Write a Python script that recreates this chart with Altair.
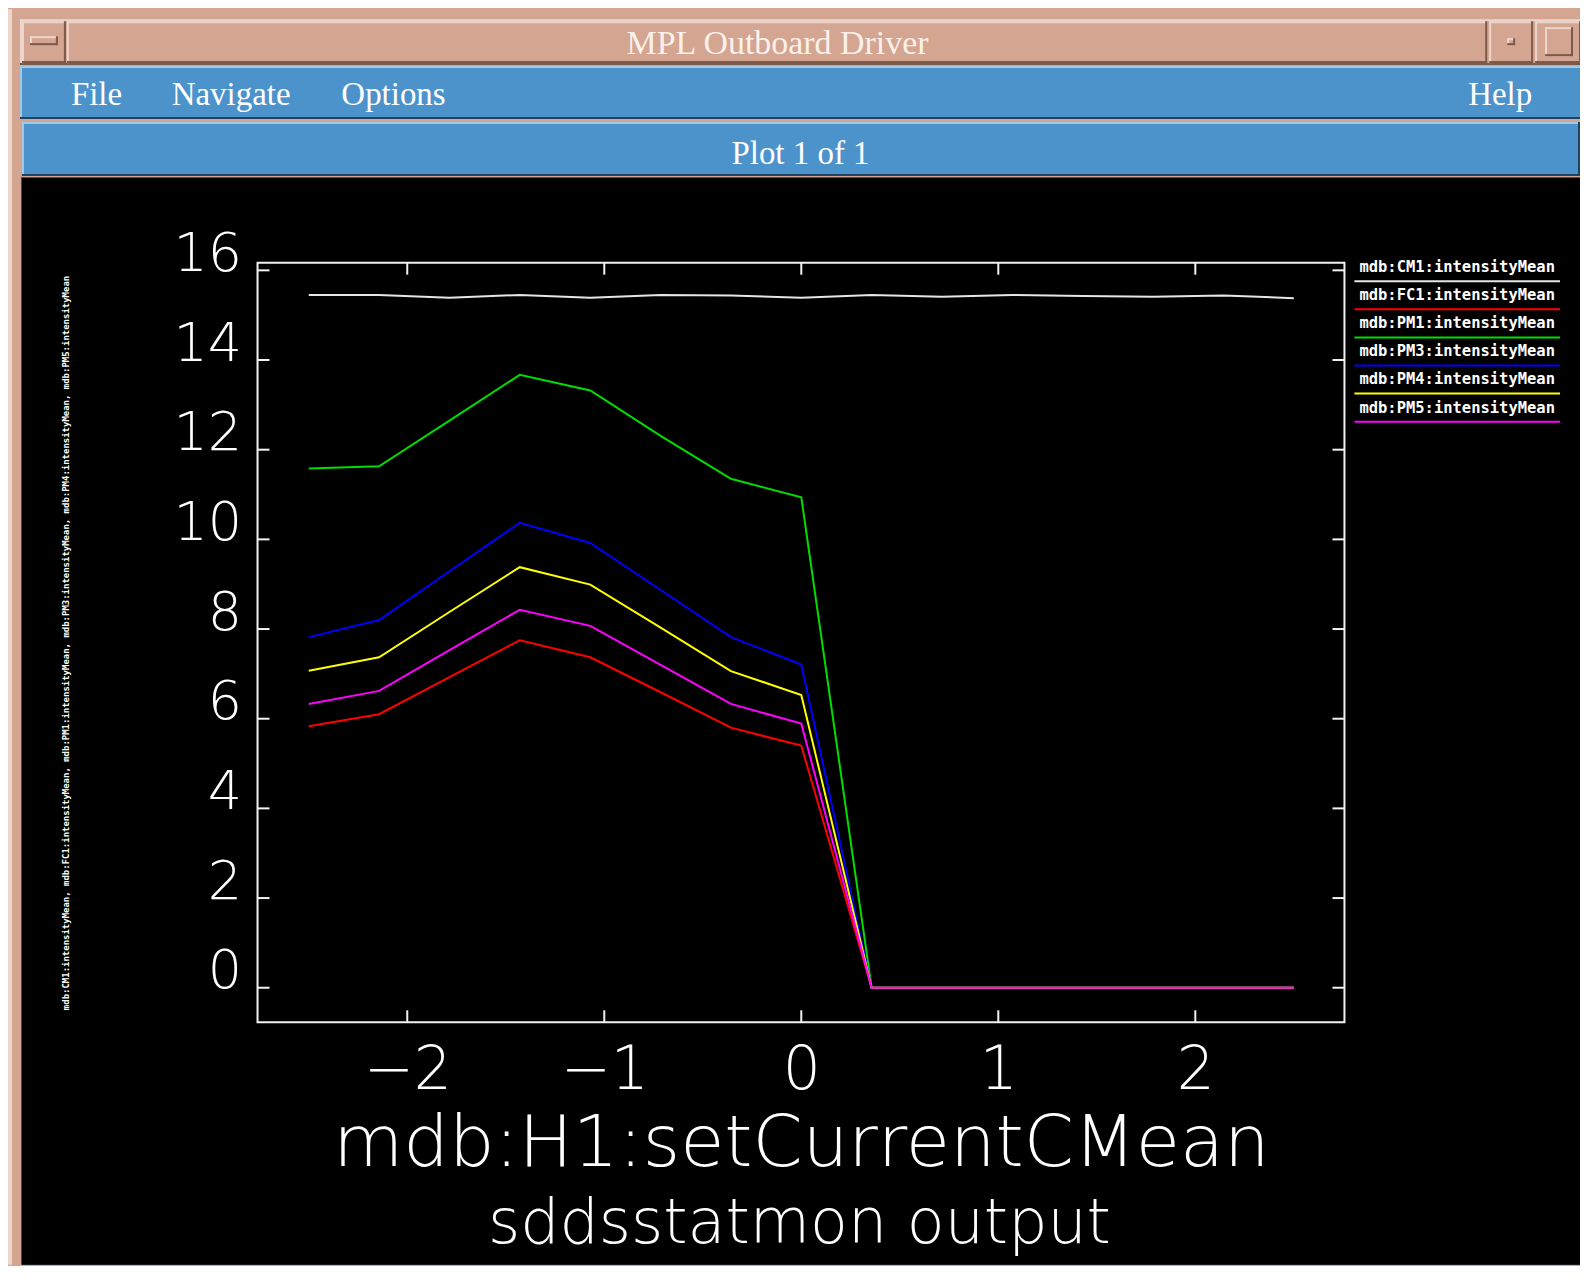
import altair as alt
import pandas as pd

# ---------------- data ----------------
x_values = [-2.5, -2.143, -1.786, -1.429, -1.071, -0.714, -0.357, 0.0,
            0.357, 0.714, 1.071, 1.429, 1.786, 2.143, 2.5]

series_names = ["mdb:CM1:intensityMean", "mdb:FC1:intensityMean",
                "mdb:PM1:intensityMean", "mdb:PM3:intensityMean",
                "mdb:PM4:intensityMean", "mdb:PM5:intensityMean"]
series_colors = ["#e6e6e6", "#ff0000", "#00dd00", "#0000ff", "#ffff00", "#ff00ff"]

cm1 = [15.45, 15.45, 15.39, 15.45, 15.39, 15.45, 15.44, 15.39,
       15.45, 15.41, 15.45, 15.43, 15.41, 15.44, 15.38]
fc1 = [5.83, 6.10, 6.93, 7.75, 7.37, 6.59, 5.80, 5.40,
       0, 0, 0, 0, 0, 0, 0]
pm1 = [11.58, 11.63, 12.65, 13.67, 13.32, 12.31, 11.35, 10.94,
       0, 0, 0, 0, 0, 0, 0]
pm3 = [7.82, 8.20, 9.29, 10.37, 9.92, 8.87, 7.82, 7.21,
       0, 0, 0, 0, 0, 0, 0]
pm4 = [7.07, 7.37, 8.38, 9.38, 8.99, 8.03, 7.06, 6.53,
       0, 0, 0, 0, 0, 0, 0]
pm5 = [6.33, 6.62, 7.53, 8.43, 8.07, 7.20, 6.33, 5.89,
       0, 0, 0, 0, 0, 0, 0]

x_ticks = [-2, -1, 0, 1, 2]
y_ticks = [0, 2, 4, 6, 8, 10, 12, 14, 16]

x_title = "mdb:H1:setCurrentCMean"
sub_title = "sddsstatmon output"
y_title = ", ".join(series_names)

window_title = "MPL Outboard Driver"
menu_left = ["File", "Navigate", "Options"]
menu_right = "Help"
plot_label = "Plot 1 of 1"

# ---------------- tables for the library ----------------
rows = []
for name, vals in zip(series_names, [cm1, fc1, pm1, pm3, pm4, pm5]):
    for xv, yv in zip(x_values, vals):
        rows.append({"x": xv, "value": yv, "series": name})
df = pd.DataFrame(rows)
legend_df = pd.DataFrame({"series": series_names})
xt_df = pd.DataFrame({"t": x_ticks})
yt_df = pd.DataFrame({"t": y_ticks})
one = pd.DataFrame({"k": [0]})

# ---------------- layout (page pixels -> chart pixels) ----------------
VX, VY = 258, 262          # page position of plot box top-left
W, H = 1089, 761           # plot box size
TAN = "#d4a590"
LIGHT_TAN = "#ecd6cb"
DARK_TAN = "#7e5a4b"
BLUE = "#4d93cb"
LIGHT_BLUE = "#a3c8e6"
DARK_BLUE = "#1f4361"
THIN_FONT = "DejaVu Sans"


def P(x):
    return x - VX


def Q(y):
    return y - VY


def box(x1, y1, x2, y2, color):
    return alt.Chart(one).mark_rect(color=color).encode(
        x=alt.value(P(x1)), x2=alt.value(P(x2)),
        y=alt.value(Q(y1)), y2=alt.value(Q(y2)))


def label(s, x, y, size, font="Liberation Serif", align="left",
          color="#ffffff", weight="normal"):
    return alt.Chart(one).mark_text(
        text=s, align=align, baseline="alphabetic", font=font,
        fontSize=size, fontWeight=weight, color=color).encode(
        x=alt.value(P(x)), y=alt.value(Q(y)))


def bevel(x1, y1, x2, y2, light, dark, t=2):
    return [box(x1, y1, x2, y1 + t, light), box(x1, y1, x1 + t, y2, light),
            box(x1, y2 - t, x2, y2, dark), box(x2 - t, y1, x2, y2, dark)]


deco = []
# outer frame
deco.append(box(8, 8, 12, 1266, LIGHT_TAN))
# title bar
deco += bevel(20, 18, 1585, 64, LIGHT_TAN, DARK_TAN)
deco += bevel(22, 20, 66, 62, LIGHT_TAN, DARK_TAN)
deco += bevel(30, 35, 58, 44, LIGHT_TAN, DARK_TAN)
deco += bevel(67, 20, 1490, 62, LIGHT_TAN, DARK_TAN)
deco += bevel(1492, 20, 1536, 62, LIGHT_TAN, DARK_TAN)
deco += bevel(1510, 37, 1518, 44, LIGHT_TAN, DARK_TAN)
deco += bevel(1538, 20, 1584, 62, LIGHT_TAN, DARK_TAN)
deco += bevel(1548, 26, 1576, 55, LIGHT_TAN, DARK_TAN)
# menu bar
deco.append(box(20, 65, 1585, 118, BLUE))
deco += bevel(20, 65, 1585, 118, LIGHT_BLUE, DARK_BLUE)
# plot label bar
deco.append(box(22, 121, 1583, 175, BLUE))
deco += bevel(22, 121, 1583, 175, LIGHT_BLUE, DARK_BLUE)
# black drawing area
deco.append(box(21, 176, 1583, 1266, "#2b5b82"))
deco.append(box(22, 177, 1583, 1266, "#000000"))

texts = [label(window_title, 779, 53, 34, align="center", color="#fbf1ec")]
for s, xp in zip(menu_left, [71, 172, 342]):
    texts.append(label(s, xp, 104, 33))
texts.append(label(menu_right, 1471, 104, 33))
texts.append(label(plot_label, 802, 163, 33, align="center"))
texts.append(label(sub_title, 801, 1244, 62, font=THIN_FONT, align="center",
                   weight=200))

# ---------------- plot ----------------
xscale = alt.Scale(domain=[-2.76, 2.757], nice=False, zero=False)
yscale = alt.Scale(domain=[-0.77, 16.17], nice=False, zero=False)
cscale = alt.Scale(domain=series_names, range=series_colors)

frame = alt.Chart(one).mark_rect(fillOpacity=0, stroke="#f2f2f2",
                                 strokeWidth=2).encode(
    x=alt.value(0), x2=alt.value(W), y=alt.value(0), y2=alt.value(H))

TK = 12
tick_layers = [
    alt.Chart(xt_df).mark_rule(color="#f2f2f2", strokeWidth=2).encode(
        x=alt.X("t:Q", scale=xscale, axis=None),
        y=alt.value(H), y2=alt.value(H - TK)),
    alt.Chart(xt_df).mark_rule(color="#f2f2f2", strokeWidth=2).encode(
        x=alt.X("t:Q", scale=xscale, axis=None),
        y=alt.value(0), y2=alt.value(TK)),
    alt.Chart(yt_df).mark_rule(color="#f2f2f2", strokeWidth=2).encode(
        y=alt.Y("t:Q", scale=yscale, axis=None),
        x=alt.value(0), x2=alt.value(TK)),
    alt.Chart(yt_df).mark_rule(color="#f2f2f2", strokeWidth=2).encode(
        y=alt.Y("t:Q", scale=yscale, axis=None),
        x=alt.value(W), x2=alt.value(W - TK)),
]

lines = alt.Chart(df).mark_line(strokeWidth=2).encode(
    x=alt.X("x:Q", scale=xscale, title=x_title, axis=alt.Axis(
        orient="bottom", values=x_ticks, format="d", domain=False,
        ticks=False, tickSize=0, grid=False, labelFont=THIN_FONT,
        labelFontSize=60, labelFontWeight=200, labelColor="#ffffff",
        labelPadding=66, labelBaseline="alphabetic", labelFlush=False,
        labelOverlap=False, titleFont=THIN_FONT, titleFontSize=72,
        titleFontWeight=200, titleColor="#ffffff", titleY=1167 - VY - H,
        titleBaseline="alphabetic", zindex=1)),
    y=alt.Y("value:Q", scale=yscale, title=y_title, axis=alt.Axis(
        orient="left", values=y_ticks, format="d", domain=False,
        ticks=False, tickSize=0, grid=False, labelFont=THIN_FONT,
        labelFontSize=54, labelFontWeight=200, labelColor="#ffffff",
        labelPadding=16, labelBaseline="alphabetic", labelAlign="right",
        labelFlush=False, labelOverlap=False,
        titleFont="DejaVu Sans Mono", titleFontSize=9,
        titleFontWeight="bold", titleColor="#ffffff", titleAngle=270,
        titleX=66 - VX, titleY=H / 2, titleAlign="center",
        titleBaseline="middle", zindex=1)),
    color=alt.Color("series:N", scale=cscale, legend=None),
)

legend_text = alt.Chart(legend_df).mark_text(
    align="left", baseline="middle", font="DejaVu Sans Mono", fontSize=15.5,
    fontWeight="bold", color="#ffffff").encode(
    x=alt.value(P(1362)),
    y=alt.Y("series:N", axis=None, scale=alt.Scale(
        type="point", domain=series_names, range=[Q(266.4), Q(407.1)],
        padding=0)),
    text="series:N")

legend_lines = alt.Chart(legend_df).mark_rule(strokeWidth=2).encode(
    x=alt.value(P(1357)), x2=alt.value(P(1563)),
    y=alt.Y("series:N", axis=None, scale=alt.Scale(
        type="point", domain=series_names, range=[Q(280.5), Q(421.3)],
        padding=0)),
    color=alt.Color("series:N", scale=cscale, legend=None))

chart = alt.layer(
    *deco, *texts, frame, *tick_layers, lines, legend_lines, legend_text
).resolve_scale(
    x="independent", y="independent"
).properties(
    width=W, height=H,
    padding={"left": 250, "top": 254, "right": 236, "bottom": 243},
    autosize=alt.AutoSizeParams(type="none"),
    background=TAN,
).configure_view(strokeWidth=0)

chart.save("out.html", embed_options={"renderer": "svg", "actions": False})
